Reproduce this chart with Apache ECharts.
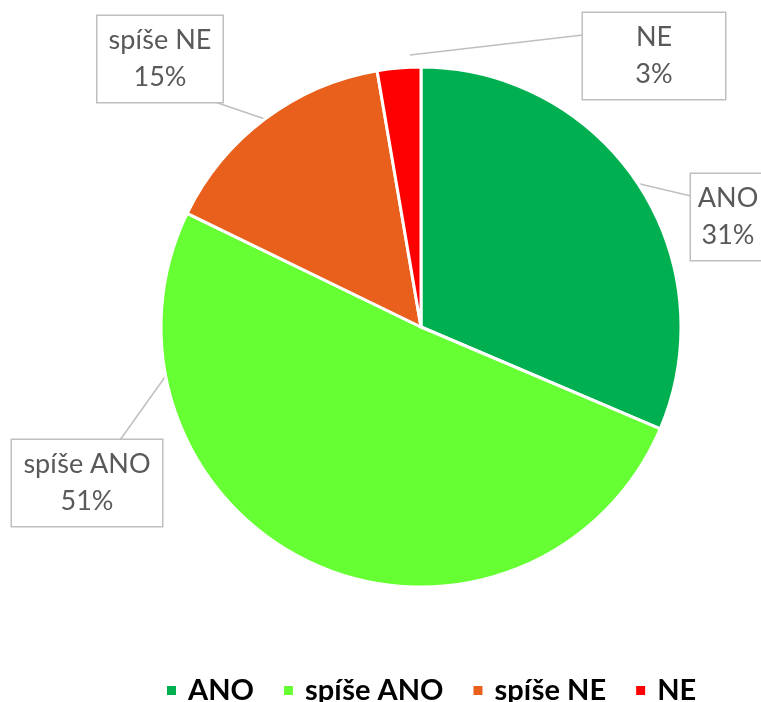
<!DOCTYPE html>
<html>
<head>
<meta charset="utf-8">
<script src="https://cdn.jsdelivr.net/npm/echarts@6/dist/echarts.min.js"></script>
<style>html,body{margin:0;padding:0;background:#fff;}#c{width:761px;height:702px;}</style>
</head>
<body>
<div id="c"></div>
<script>
const categories = ['ANO', 'spíše ANO', 'spíše NE', 'NE'];
const values = [31.4, 50.8, 15.1, 2.7];
const colors = ['#00B050', '#66FF33', '#E8601C', '#FF0000'];

// label box centres / widths and callout tips
const labelPos = [
  {x: 728, y: 217, w: 74, tip: null, end: [691, 196]},
  {x: 87, y: 483, w: 150, tip: [170, 370], end: [120, 440]},
  {x: 160, y: 59, w: 125, tip: null, end: [212, 101]},
  {x: 654, y: 56, w: 142, tip: [410, 55], end: [583, 35]}
];

const chart = echarts.init(document.getElementById('c'));
chart.setOption({
  animation: false,
  color: colors,
  legend: {
    top: 671,
    left: 160,
    itemWidth: 11,
    itemHeight: 11,
    itemGap: 28,
    icon: 'rect',
    textStyle: {fontFamily: 'Lato', fontWeight: 'bold', fontSize: 29, color: '#000', padding: [0, 0, 0, 6]},
    data: categories
  },
  series: [{
    type: 'pie',
    center: [421, 327],
    radius: 260,
    startAngle: 90,
    clockwise: true,
    percentPrecision: 0,
    avoidLabelOverlap: false,
    itemStyle: {borderColor: '#fff', borderWidth: 3},
    label: {
      show: true,
      position: 'outside',
      formatter: '{b}\n{d}%',
      fontFamily: 'Lato',
      fontSize: 27,
      lineHeight: 37,
      color: '#595959',
      align: 'center',
      backgroundColor: '#fff',
      borderColor: '#bfbfbf',
      borderWidth: 1.5,
      padding: [6, 0, 6, 0]
    },
    labelLine: {show: true, length: 20, length2: 20, lineStyle: {color: '#bfbfbf', width: 1.5}},
    labelLayout: function (p) {
      const lp = labelPos[p.dataIndex];
      const start = lp.tip || (p.labelLinePoints ? p.labelLinePoints[0] : lp.end);
      return {
        x: lp.x, y: lp.y, align: 'center', verticalAlign: 'middle', width: lp.w,
        labelLinePoints: [start, lp.end, lp.end]
      };
    },
    data: categories.map((c, i) => ({name: c, value: values[i], label: {width: labelPos[i].w}}))
  }]
});
</script>
</body>
</html>
